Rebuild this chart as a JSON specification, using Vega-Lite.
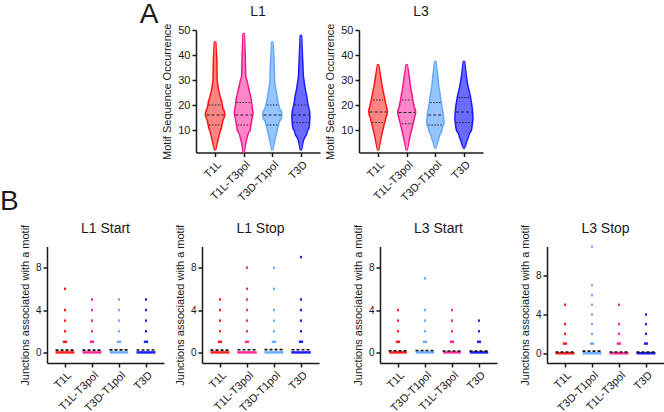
{
  "$schema": "https://vega.github.io/schema/vega-lite/v6.json",
  "padding": 0,
  "background": "white",
  "config": {
    "font": "Liberation Sans",
    "view": {"stroke": null},
    "axis": {
      "domainColor": "#1a1a1a", "domainWidth": 1.5,
      "tickColor": "#1a1a1a", "tickWidth": 1.5, "tickSize": 4,
      "labelFont": "Liberation Sans", "labelFontSize": 11, "labelColor": "#1a1a1a", "labelPadding": 2, "labelOverlap": false,
      "titleFont": "Liberation Sans", "titleFontSize": 11, "titleFontWeight": "normal", "titleColor": "#1a1a1a", "titlePadding": 5,
      "grid": false
    },
    "title": {"font": "Liberation Sans", "fontWeight": "normal", "color": "#1a1a1a", "fontSize": 14, "baseline": "alphabetic"}
  },
  "datasets": {
    "violins": [
      {"panel": "L1", "group": "T1L", "kind": "outline", "value": 2.3, "density": 0},
      {"panel": "L1", "group": "T1L", "kind": "outline", "value": 5.7, "density": 2},
      {"panel": "L1", "group": "T1L", "kind": "outline", "value": 9, "density": 4},
      {"panel": "L1", "group": "T1L", "kind": "outline", "value": 11.7, "density": 6},
      {"panel": "L1", "group": "T1L", "kind": "outline", "value": 14.3, "density": 7.3},
      {"panel": "L1", "group": "T1L", "kind": "outline", "value": 16.3, "density": 9},
      {"panel": "L1", "group": "T1L", "kind": "outline", "value": 18.3, "density": 7.3},
      {"panel": "L1", "group": "T1L", "kind": "outline", "value": 21, "density": 6},
      {"panel": "L1", "group": "T1L", "kind": "outline", "value": 23.5, "density": 4.3},
      {"panel": "L1", "group": "T1L", "kind": "outline", "value": 26, "density": 2.7},
      {"panel": "L1", "group": "T1L", "kind": "outline", "value": 30, "density": 1.3},
      {"panel": "L1", "group": "T1L", "kind": "outline", "value": 38, "density": 1},
      {"panel": "L1", "group": "T1L", "kind": "outline", "value": 45, "density": 0},
      {"panel": "L1", "group": "T1L", "kind": "quartile", "value": 20, "density": 6.3},
      {"panel": "L1", "group": "T1L", "kind": "median", "value": 16, "density": 8.6},
      {"panel": "L1", "group": "T1L", "kind": "quartile", "value": 12, "density": 6},

      {"panel": "L1", "group": "T1L-T3pol", "kind": "outline", "value": 1.3, "density": 0},
      {"panel": "L1", "group": "T1L-T3pol", "kind": "outline", "value": 4.7, "density": 1.3},
      {"panel": "L1", "group": "T1L-T3pol", "kind": "outline", "value": 8, "density": 3.3},
      {"panel": "L1", "group": "T1L-T3pol", "kind": "outline", "value": 10.7, "density": 6},
      {"panel": "L1", "group": "T1L-T3pol", "kind": "outline", "value": 14, "density": 7.3},
      {"panel": "L1", "group": "T1L-T3pol", "kind": "outline", "value": 16.7, "density": 8.7},
      {"panel": "L1", "group": "T1L-T3pol", "kind": "outline", "value": 19.3, "density": 7.7},
      {"panel": "L1", "group": "T1L-T3pol", "kind": "outline", "value": 22.6, "density": 6.7},
      {"panel": "L1", "group": "T1L-T3pol", "kind": "outline", "value": 25.9, "density": 4.7},
      {"panel": "L1", "group": "T1L-T3pol", "kind": "outline", "value": 29, "density": 3},
      {"panel": "L1", "group": "T1L-T3pol", "kind": "outline", "value": 31.6, "density": 1.3},
      {"panel": "L1", "group": "T1L-T3pol", "kind": "outline", "value": 40, "density": 0.8},
      {"panel": "L1", "group": "T1L-T3pol", "kind": "outline", "value": 48.3, "density": 0},
      {"panel": "L1", "group": "T1L-T3pol", "kind": "quartile", "value": 21, "density": 7},
      {"panel": "L1", "group": "T1L-T3pol", "kind": "median", "value": 16, "density": 8.4},
      {"panel": "L1", "group": "T1L-T3pol", "kind": "quartile", "value": 12, "density": 6.2},

      {"panel": "L1", "group": "T3D-T1pol", "kind": "outline", "value": 2.3, "density": 0},
      {"panel": "L1", "group": "T3D-T1pol", "kind": "outline", "value": 6.3, "density": 2},
      {"panel": "L1", "group": "T3D-T1pol", "kind": "outline", "value": 9.7, "density": 4},
      {"panel": "L1", "group": "T3D-T1pol", "kind": "outline", "value": 13, "density": 6},
      {"panel": "L1", "group": "T3D-T1pol", "kind": "outline", "value": 16, "density": 9},
      {"panel": "L1", "group": "T3D-T1pol", "kind": "outline", "value": 18.3, "density": 6.7},
      {"panel": "L1", "group": "T3D-T1pol", "kind": "outline", "value": 21.7, "density": 4.7},
      {"panel": "L1", "group": "T3D-T1pol", "kind": "outline", "value": 25, "density": 3.3},
      {"panel": "L1", "group": "T3D-T1pol", "kind": "outline", "value": 29, "density": 1.7},
      {"panel": "L1", "group": "T3D-T1pol", "kind": "outline", "value": 38, "density": 1},
      {"panel": "L1", "group": "T3D-T1pol", "kind": "outline", "value": 45, "density": 0},
      {"panel": "L1", "group": "T3D-T1pol", "kind": "quartile", "value": 20, "density": 5.4},
      {"panel": "L1", "group": "T3D-T1pol", "kind": "median", "value": 16, "density": 8.8},
      {"panel": "L1", "group": "T3D-T1pol", "kind": "quartile", "value": 12, "density": 5.4},

      {"panel": "L1", "group": "T3D", "kind": "outline", "value": 2.3, "density": 0},
      {"panel": "L1", "group": "T3D", "kind": "outline", "value": 5.7, "density": 1.7},
      {"panel": "L1", "group": "T3D", "kind": "outline", "value": 9, "density": 5.3},
      {"panel": "L1", "group": "T3D", "kind": "outline", "value": 11.7, "density": 7.7},
      {"panel": "L1", "group": "T3D", "kind": "outline", "value": 15, "density": 8.3},
      {"panel": "L1", "group": "T3D", "kind": "outline", "value": 17.3, "density": 8},
      {"panel": "L1", "group": "T3D", "kind": "outline", "value": 20.3, "density": 6.3},
      {"panel": "L1", "group": "T3D", "kind": "outline", "value": 23.6, "density": 5},
      {"panel": "L1", "group": "T3D", "kind": "outline", "value": 27, "density": 3.3},
      {"panel": "L1", "group": "T3D", "kind": "outline", "value": 31.6, "density": 1.7},
      {"panel": "L1", "group": "T3D", "kind": "outline", "value": 38, "density": 1},
      {"panel": "L1", "group": "T3D", "kind": "outline", "value": 47.6, "density": 0},
      {"panel": "L1", "group": "T3D", "kind": "quartile", "value": 20, "density": 6.3},
      {"panel": "L1", "group": "T3D", "kind": "median", "value": 16, "density": 8.1},
      {"panel": "L1", "group": "T3D", "kind": "quartile", "value": 13, "density": 7.8},

      {"panel": "L3", "group": "T1L", "kind": "outline", "value": 2.3, "density": 0},
      {"panel": "L3", "group": "T1L", "kind": "outline", "value": 7.7, "density": 2.7},
      {"panel": "L3", "group": "T1L", "kind": "outline", "value": 11.7, "density": 5},
      {"panel": "L3", "group": "T1L", "kind": "outline", "value": 14.3, "density": 6.7},
      {"panel": "L3", "group": "T1L", "kind": "outline", "value": 17.3, "density": 8.7},
      {"panel": "L3", "group": "T1L", "kind": "outline", "value": 20.3, "density": 7},
      {"panel": "L3", "group": "T1L", "kind": "outline", "value": 23.6, "density": 5.3},
      {"panel": "L3", "group": "T1L", "kind": "outline", "value": 27.6, "density": 3.3},
      {"panel": "L3", "group": "T1L", "kind": "outline", "value": 31.6, "density": 1.7},
      {"panel": "L3", "group": "T1L", "kind": "outline", "value": 35.9, "density": 0},
      {"panel": "L3", "group": "T1L", "kind": "quartile", "value": 22, "density": 5},
      {"panel": "L3", "group": "T1L", "kind": "median", "value": 17.2, "density": 8.5},
      {"panel": "L3", "group": "T1L", "kind": "quartile", "value": 13, "density": 5.8},

      {"panel": "L3", "group": "T1L-T3pol", "kind": "outline", "value": 2.3, "density": 0},
      {"panel": "L3", "group": "T1L-T3pol", "kind": "outline", "value": 7, "density": 2.3},
      {"panel": "L3", "group": "T1L-T3pol", "kind": "outline", "value": 11, "density": 4.7},
      {"panel": "L3", "group": "T1L-T3pol", "kind": "outline", "value": 14.3, "density": 6.7},
      {"panel": "L3", "group": "T1L-T3pol", "kind": "outline", "value": 17, "density": 8.3},
      {"panel": "L3", "group": "T1L-T3pol", "kind": "outline", "value": 19.3, "density": 6.7},
      {"panel": "L3", "group": "T1L-T3pol", "kind": "outline", "value": 23.6, "density": 4.7},
      {"panel": "L3", "group": "T1L-T3pol", "kind": "outline", "value": 27.6, "density": 3},
      {"panel": "L3", "group": "T1L-T3pol", "kind": "outline", "value": 31.6, "density": 1.7},
      {"panel": "L3", "group": "T1L-T3pol", "kind": "outline", "value": 35.9, "density": 0},
      {"panel": "L3", "group": "T1L-T3pol", "kind": "quartile", "value": 22, "density": 4.7},
      {"panel": "L3", "group": "T1L-T3pol", "kind": "median", "value": 17, "density": 8.2},
      {"panel": "L3", "group": "T1L-T3pol", "kind": "quartile", "value": 12.5, "density": 5},

      {"panel": "L3", "group": "T3D-T1pol", "kind": "outline", "value": 3, "density": 0},
      {"panel": "L3", "group": "T3D-T1pol", "kind": "outline", "value": 7, "density": 3},
      {"panel": "L3", "group": "T3D-T1pol", "kind": "outline", "value": 10.4, "density": 6},
      {"panel": "L3", "group": "T3D-T1pol", "kind": "outline", "value": 13, "density": 8},
      {"panel": "L3", "group": "T3D-T1pol", "kind": "outline", "value": 16, "density": 7.3},
      {"panel": "L3", "group": "T3D-T1pol", "kind": "outline", "value": 19.7, "density": 5.7},
      {"panel": "L3", "group": "T3D-T1pol", "kind": "outline", "value": 23.6, "density": 4.3},
      {"panel": "L3", "group": "T3D-T1pol", "kind": "outline", "value": 27.6, "density": 2.7},
      {"panel": "L3", "group": "T3D-T1pol", "kind": "outline", "value": 31.6, "density": 1.7},
      {"panel": "L3", "group": "T3D-T1pol", "kind": "outline", "value": 37.2, "density": 0},
      {"panel": "L3", "group": "T3D-T1pol", "kind": "quartile", "value": 21, "density": 5.2},
      {"panel": "L3", "group": "T3D-T1pol", "kind": "median", "value": 16, "density": 7.2},
      {"panel": "L3", "group": "T3D-T1pol", "kind": "quartile", "value": 12, "density": 7},

      {"panel": "L3", "group": "T3D", "kind": "outline", "value": 3, "density": 0},
      {"panel": "L3", "group": "T3D", "kind": "outline", "value": 4, "density": 1},
      {"panel": "L3", "group": "T3D", "kind": "outline", "value": 7.7, "density": 4},
      {"panel": "L3", "group": "T3D", "kind": "outline", "value": 11, "density": 7.3},
      {"panel": "L3", "group": "T3D", "kind": "outline", "value": 14.3, "density": 8.3},
      {"panel": "L3", "group": "T3D", "kind": "outline", "value": 17, "density": 8},
      {"panel": "L3", "group": "T3D", "kind": "outline", "value": 19.7, "density": 7.3},
      {"panel": "L3", "group": "T3D", "kind": "outline", "value": 23.6, "density": 5.7},
      {"panel": "L3", "group": "T3D", "kind": "outline", "value": 27.6, "density": 3.3},
      {"panel": "L3", "group": "T3D", "kind": "outline", "value": 31.6, "density": 1.7},
      {"panel": "L3", "group": "T3D", "kind": "outline", "value": 37.2, "density": 0},
      {"panel": "L3", "group": "T3D", "kind": "quartile", "value": 23, "density": 5.5},
      {"panel": "L3", "group": "T3D", "kind": "median", "value": 17.2, "density": 7.9},
      {"panel": "L3", "group": "T3D", "kind": "quartile", "value": 13, "density": 7.8}
    ],
    "junctions": [
      {"panel": "L1 Start", "group": "T1L", "value": 0, "n": 300},
      {"panel": "L1 Start", "group": "T1L", "value": 1, "n": 40},
      {"panel": "L1 Start", "group": "T1L", "value": 2, "n": 1},
      {"panel": "L1 Start", "group": "T1L", "value": 3, "n": 1},
      {"panel": "L1 Start", "group": "T1L", "value": 4, "n": 1},
      {"panel": "L1 Start", "group": "T1L", "value": 6, "n": 1},
      {"panel": "L1 Start", "group": "T1L-T3pol", "value": 0, "n": 300},
      {"panel": "L1 Start", "group": "T1L-T3pol", "value": 1, "n": 40},
      {"panel": "L1 Start", "group": "T1L-T3pol", "value": 2, "n": 1},
      {"panel": "L1 Start", "group": "T1L-T3pol", "value": 3, "n": 1},
      {"panel": "L1 Start", "group": "T1L-T3pol", "value": 4, "n": 1},
      {"panel": "L1 Start", "group": "T1L-T3pol", "value": 5, "n": 1},
      {"panel": "L1 Start", "group": "T3D-T1pol", "value": 0, "n": 290},
      {"panel": "L1 Start", "group": "T3D-T1pol", "value": 1, "n": 45},
      {"panel": "L1 Start", "group": "T3D-T1pol", "value": 2, "n": 3},
      {"panel": "L1 Start", "group": "T3D-T1pol", "value": 3, "n": 1},
      {"panel": "L1 Start", "group": "T3D-T1pol", "value": 4, "n": 1},
      {"panel": "L1 Start", "group": "T3D-T1pol", "value": 5, "n": 1},
      {"panel": "L1 Start", "group": "T3D", "value": 0, "n": 300},
      {"panel": "L1 Start", "group": "T3D", "value": 1, "n": 42},
      {"panel": "L1 Start", "group": "T3D", "value": 2, "n": 1},
      {"panel": "L1 Start", "group": "T3D", "value": 3, "n": 1},
      {"panel": "L1 Start", "group": "T3D", "value": 4, "n": 1},
      {"panel": "L1 Start", "group": "T3D", "value": 5, "n": 1},

      {"panel": "L1 Stop", "group": "T1L", "value": 0, "n": 300},
      {"panel": "L1 Stop", "group": "T1L", "value": 1, "n": 40},
      {"panel": "L1 Stop", "group": "T1L", "value": 2, "n": 1},
      {"panel": "L1 Stop", "group": "T1L", "value": 3, "n": 1},
      {"panel": "L1 Stop", "group": "T1L", "value": 4, "n": 1},
      {"panel": "L1 Stop", "group": "T1L", "value": 5, "n": 1},
      {"panel": "L1 Stop", "group": "T1L-T3pol", "value": 0, "n": 310},
      {"panel": "L1 Stop", "group": "T1L-T3pol", "value": 1, "n": 40},
      {"panel": "L1 Stop", "group": "T1L-T3pol", "value": 2, "n": 1},
      {"panel": "L1 Stop", "group": "T1L-T3pol", "value": 3, "n": 1},
      {"panel": "L1 Stop", "group": "T1L-T3pol", "value": 4, "n": 1},
      {"panel": "L1 Stop", "group": "T1L-T3pol", "value": 5, "n": 1},
      {"panel": "L1 Stop", "group": "T1L-T3pol", "value": 6, "n": 1},
      {"panel": "L1 Stop", "group": "T1L-T3pol", "value": 8, "n": 1},
      {"panel": "L1 Stop", "group": "T3D-T1pol", "value": 0, "n": 300},
      {"panel": "L1 Stop", "group": "T3D-T1pol", "value": 1, "n": 45},
      {"panel": "L1 Stop", "group": "T3D-T1pol", "value": 2, "n": 2},
      {"panel": "L1 Stop", "group": "T3D-T1pol", "value": 3, "n": 1},
      {"panel": "L1 Stop", "group": "T3D-T1pol", "value": 4, "n": 1},
      {"panel": "L1 Stop", "group": "T3D-T1pol", "value": 6, "n": 1},
      {"panel": "L1 Stop", "group": "T3D-T1pol", "value": 8, "n": 1},
      {"panel": "L1 Stop", "group": "T3D", "value": 0, "n": 310},
      {"panel": "L1 Stop", "group": "T3D", "value": 1, "n": 40},
      {"panel": "L1 Stop", "group": "T3D", "value": 2, "n": 1},
      {"panel": "L1 Stop", "group": "T3D", "value": 3, "n": 1},
      {"panel": "L1 Stop", "group": "T3D", "value": 4, "n": 1},
      {"panel": "L1 Stop", "group": "T3D", "value": 5, "n": 1},
      {"panel": "L1 Stop", "group": "T3D", "value": 9, "n": 1},

      {"panel": "L3 Start", "group": "T1L", "value": 0, "n": 280},
      {"panel": "L3 Start", "group": "T1L", "value": 1, "n": 40},
      {"panel": "L3 Start", "group": "T1L", "value": 2, "n": 1},
      {"panel": "L3 Start", "group": "T1L", "value": 3, "n": 1},
      {"panel": "L3 Start", "group": "T1L", "value": 4, "n": 1},
      {"panel": "L3 Start", "group": "T3D-T1pol", "value": 0, "n": 290},
      {"panel": "L3 Start", "group": "T3D-T1pol", "value": 1, "n": 40},
      {"panel": "L3 Start", "group": "T3D-T1pol", "value": 2, "n": 2},
      {"panel": "L3 Start", "group": "T3D-T1pol", "value": 3, "n": 1},
      {"panel": "L3 Start", "group": "T3D-T1pol", "value": 4, "n": 1},
      {"panel": "L3 Start", "group": "T3D-T1pol", "value": 7, "n": 1},
      {"panel": "L3 Start", "group": "T1L-T3pol", "value": 0, "n": 280},
      {"panel": "L3 Start", "group": "T1L-T3pol", "value": 1, "n": 40},
      {"panel": "L3 Start", "group": "T1L-T3pol", "value": 2, "n": 1},
      {"panel": "L3 Start", "group": "T1L-T3pol", "value": 3, "n": 1},
      {"panel": "L3 Start", "group": "T1L-T3pol", "value": 4, "n": 1},
      {"panel": "L3 Start", "group": "T3D", "value": 0, "n": 290},
      {"panel": "L3 Start", "group": "T3D", "value": 1, "n": 35},
      {"panel": "L3 Start", "group": "T3D", "value": 2, "n": 1},
      {"panel": "L3 Start", "group": "T3D", "value": 3, "n": 1},

      {"panel": "L3 Stop", "group": "T1L", "value": 0, "n": 300},
      {"panel": "L3 Stop", "group": "T1L", "value": 1, "n": 40},
      {"panel": "L3 Stop", "group": "T1L", "value": 2, "n": 1},
      {"panel": "L3 Stop", "group": "T1L", "value": 3, "n": 1},
      {"panel": "L3 Stop", "group": "T1L", "value": 5, "n": 1},
      {"panel": "L3 Stop", "group": "T3D-T1pol", "value": 0, "n": 300},
      {"panel": "L3 Stop", "group": "T3D-T1pol", "value": 1, "n": 40},
      {"panel": "L3 Stop", "group": "T3D-T1pol", "value": 2, "n": 2},
      {"panel": "L3 Stop", "group": "T3D-T1pol", "value": 3, "n": 1},
      {"panel": "L3 Stop", "group": "T3D-T1pol", "value": 4, "n": 1},
      {"panel": "L3 Stop", "group": "T3D-T1pol", "value": 5, "n": 1},
      {"panel": "L3 Stop", "group": "T3D-T1pol", "value": 6, "n": 1},
      {"panel": "L3 Stop", "group": "T3D-T1pol", "value": 7, "n": 1},
      {"panel": "L3 Stop", "group": "T3D-T1pol", "value": 11, "n": 1},
      {"panel": "L3 Stop", "group": "T1L-T3pol", "value": 0, "n": 300},
      {"panel": "L3 Stop", "group": "T1L-T3pol", "value": 1, "n": 40},
      {"panel": "L3 Stop", "group": "T1L-T3pol", "value": 2, "n": 1},
      {"panel": "L3 Stop", "group": "T1L-T3pol", "value": 3, "n": 1},
      {"panel": "L3 Stop", "group": "T1L-T3pol", "value": 5, "n": 1},
      {"panel": "L3 Stop", "group": "T3D", "value": 0, "n": 300},
      {"panel": "L3 Stop", "group": "T3D", "value": 1, "n": 35},
      {"panel": "L3 Stop", "group": "T3D", "value": 2, "n": 1},
      {"panel": "L3 Stop", "group": "T3D", "value": 3, "n": 1},
      {"panel": "L3 Stop", "group": "T3D", "value": 4, "n": 1}
    ],
    "means": [
      {"panel": "L1 Start", "group": "T1L", "mean": 0.22},
      {"panel": "L1 Start", "group": "T1L-T3pol", "mean": 0.22},
      {"panel": "L1 Start", "group": "T3D-T1pol", "mean": 0.24},
      {"panel": "L1 Start", "group": "T3D", "mean": 0.23},
      {"panel": "L1 Stop", "group": "T1L", "mean": 0.22},
      {"panel": "L1 Stop", "group": "T1L-T3pol", "mean": 0.25},
      {"panel": "L1 Stop", "group": "T3D-T1pol", "mean": 0.26},
      {"panel": "L1 Stop", "group": "T3D", "mean": 0.25},
      {"panel": "L3 Start", "group": "T1L", "mean": 0.16},
      {"panel": "L3 Start", "group": "T3D-T1pol", "mean": 0.18},
      {"panel": "L3 Start", "group": "T1L-T3pol", "mean": 0.14},
      {"panel": "L3 Start", "group": "T3D", "mean": 0.12},
      {"panel": "L3 Stop", "group": "T1L", "mean": 0.13},
      {"panel": "L3 Stop", "group": "T3D-T1pol", "mean": 0.22},
      {"panel": "L3 Stop", "group": "T1L-T3pol", "mean": 0.13},
      {"panel": "L3 Stop", "group": "T3D", "mean": 0.12}
    ]
  },
  "spacing": 5.5,
  "vconcat": [
    {
      "spacing": 0,
      "hconcat": [
        {"width": 139, "height": 142.5, "data": {"values": []}, "mark": "point", "encoding": {},
         "title": {"text": "B", "anchor": "start", "orient": "bottom", "fontSize": 28, "offset": 15.5}},
        {"width": 20, "height": 1, "data": {"values": []}, "mark": "point", "encoding": {},
         "title": {"text": "A", "anchor": "middle", "fontSize": 28, "offset": 1.3}},
        {"width": 1.7, "height": 1, "data": {"values": []}, "mark": "point", "encoding": {}},
        {
          "title": {"text": "L1", "offset": 4.5},
          "width": 124, "height": 122.5,
          "data": {"name": "violins"},
          "transform": [{"filter": {"field": "panel", "equal": "L1"}}],
          "encoding": {
            "x": {"field": "group", "type": "nominal", "sort": ["T1L", "T1L-T3pol", "T3D-T1pol", "T3D"],
                  "scale": {"type": "point", "padding": 0.667}, "axis": {"labelAngle": -45, "title": null}},
            "y": {"field": "value", "type": "quantitative", "scale": {"domain": [1, 50], "nice": false, "zero": false},
                  "axis": {"title": "Motif Sequence Occurrence", "values": [10, 20, 30, 40, 50]}}
          },
          "layer": [
            {
              "transform": [{"filter": {"field": "kind", "equal": "outline"}}],
              "mark": {"type": "trail"},
              "encoding": {
                "order": {"field": "value", "type": "quantitative"},
                "detail": {"field": "group"},
                "size": {"field": "density", "type": "quantitative", "legend": null, "scale": {"domain": [0, 9], "range": [3, 21]}},
                "color": {"field": "group", "type": "nominal", "legend": null,
                          "scale": {"domain": ["T1L", "T1L-T3pol", "T3D-T1pol", "T3D"], "range": ["#ff1010", "#f0168a", "#62a8ff", "#1a1aff"]}}
              }
            },
            {
              "transform": [{"filter": {"field": "kind", "equal": "outline"}}],
              "mark": {"type": "trail"},
              "encoding": {
                "order": {"field": "value", "type": "quantitative"},
                "detail": {"field": "group"},
                "size": {"field": "density", "type": "quantitative", "legend": null, "scale": {"domain": [0, 9], "range": [0, 18]}},
                "color": {"field": "group", "type": "nominal", "legend": null,
                          "scale": {"domain": ["T1L", "T1L-T3pol", "T3D-T1pol", "T3D"], "range": ["#ff8585", "#ff85c8", "#95c4ff", "#6a6aff"]}}
              }
            },
            {
              "transform": [{"filter": "datum.kind != 'outline'"}],
              "mark": {"type": "point", "shape": "M-1,0L1,0", "filled": false, "stroke": "#222222", "strokeWidth": 1.2, "opacity": 1},
              "encoding": {
                "size": {"field": "density", "type": "quantitative", "legend": null, "scale": {"type": "pow", "exponent": 2, "domain": [0, 9], "range": [0, 324]}},
                "strokeDash": {"field": "kind", "type": "nominal", "legend": null,
                               "scale": {"domain": ["median", "quartile"], "range": [[3, 2], [1.5, 1.5]]}}
              }
            }
          ],
          "resolve": {"scale": {"size": "independent", "color": "independent"}}
        },
        {"width": 4, "height": 1, "data": {"values": []}, "mark": "point", "encoding": {}},
        {
          "title": {"text": "L3", "offset": 4.5},
          "width": 124, "height": 122.5,
          "data": {"name": "violins"},
          "transform": [{"filter": {"field": "panel", "equal": "L3"}}],
          "encoding": {
            "x": {"field": "group", "type": "nominal", "sort": ["T1L", "T1L-T3pol", "T3D-T1pol", "T3D"],
                  "scale": {"type": "point", "padding": 0.667}, "axis": {"labelAngle": -45, "title": null}},
            "y": {"field": "value", "type": "quantitative", "scale": {"domain": [1, 50], "nice": false, "zero": false},
                  "axis": {"title": "Motif Sequence Occurrence", "values": [10, 20, 30, 40, 50]}}
          },
          "layer": [
            {
              "transform": [{"filter": {"field": "kind", "equal": "outline"}}],
              "mark": {"type": "trail"},
              "encoding": {
                "order": {"field": "value", "type": "quantitative"},
                "detail": {"field": "group"},
                "size": {"field": "density", "type": "quantitative", "legend": null, "scale": {"domain": [0, 9], "range": [3, 21]}},
                "color": {"field": "group", "type": "nominal", "legend": null,
                          "scale": {"domain": ["T1L", "T1L-T3pol", "T3D-T1pol", "T3D"], "range": ["#ff1010", "#f0168a", "#62a8ff", "#1a1aff"]}}
              }
            },
            {
              "transform": [{"filter": {"field": "kind", "equal": "outline"}}],
              "mark": {"type": "trail"},
              "encoding": {
                "order": {"field": "value", "type": "quantitative"},
                "detail": {"field": "group"},
                "size": {"field": "density", "type": "quantitative", "legend": null, "scale": {"domain": [0, 9], "range": [0, 18]}},
                "color": {"field": "group", "type": "nominal", "legend": null,
                          "scale": {"domain": ["T1L", "T1L-T3pol", "T3D-T1pol", "T3D"], "range": ["#ff8585", "#ff85c8", "#95c4ff", "#6a6aff"]}}
              }
            },
            {
              "transform": [{"filter": "datum.kind != 'outline'"}],
              "mark": {"type": "point", "shape": "M-1,0L1,0", "filled": false, "stroke": "#222222", "strokeWidth": 1.2, "opacity": 1},
              "encoding": {
                "size": {"field": "density", "type": "quantitative", "legend": null, "scale": {"type": "pow", "exponent": 2, "domain": [0, 9], "range": [0, 324]}},
                "strokeDash": {"field": "kind", "type": "nominal", "legend": null,
                               "scale": {"domain": ["median", "quartile"], "range": [[3, 2], [1.5, 1.5]]}}
              }
            }
          ],
          "resolve": {"scale": {"size": "independent", "color": "independent"}}
        }
      ]
    },
    {
      "spacing": 0,
      "hconcat": [
        {"width": 19, "height": 1, "data": {"values": []}, "mark": "point", "encoding": {}},
        {
          "title": {"text": "L1 Start", "offset": -12},
          "width": 117, "height": 116.5,
          "encoding": {
            "x": {"field": "group", "type": "nominal", "sort": ["T1L", "T1L-T3pol", "T3D-T1pol", "T3D"],
                  "scale": {"type": "point", "padding": 0.667}, "axis": {"labelAngle": -45, "title": null}},
            "color": {"field": "group", "type": "nominal", "legend": null,
                      "scale": {"domain": ["T1L", "T1L-T3pol", "T3D-T1pol", "T3D"], "range": ["#ff2020", "#ff2a94", "#6aaeff", "#1f1fff"]}}
          },
          "layer": [
            {
              "data": {"name": "junctions"},
              "transform": [{"filter": {"field": "panel", "equal": "L1 Start"}}],
              "mark": {"type": "tick", "thickness": 2.5, "orient": "horizontal", "opacity": 1},
              "encoding": {
                "y": {"field": "value", "type": "quantitative", "scale": {"domain": [-1, 10], "nice": false, "zero": false},
                      "axis": {"title": "Junctions associated with a motif", "values": [0, 2, 4, 6, 8, 10], "labelFontSize": 10}},
                "size": {"field": "n", "type": "quantitative", "legend": null, "scale": {"type": "linear", "domain": [0, 300], "range": [2, 19]}}
              }
            },
            {
              "data": {"name": "means"},
              "transform": [{"filter": {"field": "panel", "equal": "L1 Start"}}],
              "mark": {"type": "point", "shape": "M-1,0L1,0", "filled": false, "stroke": "#111111", "strokeWidth": 1.6, "strokeDash": [3, 2], "size": 361, "opacity": 1},
              "encoding": {"y": {"field": "mean", "type": "quantitative"}, "color": {"value": "#111111"}}
            }
          ]
        },
        {"width": 10, "height": 1, "data": {"values": []}, "mark": "point", "encoding": {}},
        {
          "title": {"text": "L1 Stop", "offset": -12},
          "width": 117, "height": 116.5,
          "encoding": {
            "x": {"field": "group", "type": "nominal", "sort": ["T1L", "T1L-T3pol", "T3D-T1pol", "T3D"],
                  "scale": {"type": "point", "padding": 0.667}, "axis": {"labelAngle": -45, "title": null}},
            "color": {"field": "group", "type": "nominal", "legend": null,
                      "scale": {"domain": ["T1L", "T1L-T3pol", "T3D-T1pol", "T3D"], "range": ["#ff2020", "#ff2a94", "#6aaeff", "#1f1fff"]}}
          },
          "layer": [
            {
              "data": {"name": "junctions"},
              "transform": [{"filter": {"field": "panel", "equal": "L1 Stop"}}],
              "mark": {"type": "tick", "thickness": 2.5, "orient": "horizontal", "opacity": 1},
              "encoding": {
                "y": {"field": "value", "type": "quantitative", "scale": {"domain": [-1, 10], "nice": false, "zero": false},
                      "axis": {"title": "Junctions associated with a motif", "values": [0, 2, 4, 6, 8, 10], "labelFontSize": 10}},
                "size": {"field": "n", "type": "quantitative", "legend": null, "scale": {"type": "linear", "domain": [0, 300], "range": [2, 19]}}
              }
            },
            {
              "data": {"name": "means"},
              "transform": [{"filter": {"field": "panel", "equal": "L1 Stop"}}],
              "mark": {"type": "point", "shape": "M-1,0L1,0", "filled": false, "stroke": "#111111", "strokeWidth": 1.6, "strokeDash": [3, 2], "size": 361, "opacity": 1},
              "encoding": {"y": {"field": "mean", "type": "quantitative"}, "color": {"value": "#111111"}}
            }
          ]
        },
        {"width": 33, "height": 1, "data": {"values": []}, "mark": "point", "encoding": {}},
        {
          "title": {"text": "L3 Start", "offset": -12},
          "width": 117, "height": 116.5,
          "encoding": {
            "x": {"field": "group", "type": "nominal", "sort": ["T1L", "T3D-T1pol", "T1L-T3pol", "T3D"],
                  "scale": {"type": "point", "padding": 0.667}, "axis": {"labelAngle": -45, "title": null}},
            "color": {"field": "group", "type": "nominal", "legend": null,
                      "scale": {"domain": ["T1L", "T1L-T3pol", "T3D-T1pol", "T3D"], "range": ["#ff2020", "#ff2a94", "#6aaeff", "#1f1fff"]}}
          },
          "layer": [
            {
              "data": {"name": "junctions"},
              "transform": [{"filter": {"field": "panel", "equal": "L3 Start"}}],
              "mark": {"type": "tick", "thickness": 2.5, "orient": "horizontal", "opacity": 1},
              "encoding": {
                "y": {"field": "value", "type": "quantitative", "scale": {"domain": [-1, 10], "nice": false, "zero": false},
                      "axis": {"title": "Junctions associated with a motif", "values": [0, 2, 4, 6, 8, 10], "labelFontSize": 10}},
                "size": {"field": "n", "type": "quantitative", "legend": null, "scale": {"type": "linear", "domain": [0, 300], "range": [2, 19]}}
              }
            },
            {
              "data": {"name": "means"},
              "transform": [{"filter": {"field": "panel", "equal": "L3 Start"}}],
              "mark": {"type": "point", "shape": "M-1,0L1,0", "filled": false, "stroke": "#111111", "strokeWidth": 1.6, "strokeDash": [3, 2], "size": 361, "opacity": 1},
              "encoding": {"y": {"field": "mean", "type": "quantitative"}, "color": {"value": "#111111"}}
            }
          ]
        },
        {"width": 22, "height": 1, "data": {"values": []}, "mark": "point", "encoding": {}},
        {
          "title": {"text": "L3 Stop", "offset": -12},
          "width": 117, "height": 116.5,
          "encoding": {
            "x": {"field": "group", "type": "nominal", "sort": ["T1L", "T3D-T1pol", "T1L-T3pol", "T3D"],
                  "scale": {"type": "point", "padding": 0.667}, "axis": {"labelAngle": -45, "title": null}},
            "color": {"field": "group", "type": "nominal", "legend": null,
                      "scale": {"domain": ["T1L", "T1L-T3pol", "T3D-T1pol", "T3D"], "range": ["#ff2020", "#ff2a94", "#6aaeff", "#1f1fff"]}}
          },
          "layer": [
            {
              "data": {"name": "junctions"},
              "transform": [{"filter": {"field": "panel", "equal": "L3 Stop"}}],
              "mark": {"type": "tick", "thickness": 2.5, "orient": "horizontal", "opacity": 1},
              "encoding": {
                "y": {"field": "value", "type": "quantitative", "scale": {"domain": [-1, 11], "nice": false, "zero": false},
                      "axis": {"title": "Junctions associated with a motif", "values": [0, 2, 4, 6, 8, 10], "labelFontSize": 10}},
                "size": {"field": "n", "type": "quantitative", "legend": null, "scale": {"type": "linear", "domain": [0, 300], "range": [2, 19]}}
              }
            },
            {
              "data": {"name": "means"},
              "transform": [{"filter": {"field": "panel", "equal": "L3 Stop"}}],
              "mark": {"type": "point", "shape": "M-1,0L1,0", "filled": false, "stroke": "#111111", "strokeWidth": 1.6, "strokeDash": [3, 2], "size": 361, "opacity": 1},
              "encoding": {"y": {"field": "mean", "type": "quantitative"}, "color": {"value": "#111111"}}
            }
          ]
        }
      ]
    }
  ]
}
